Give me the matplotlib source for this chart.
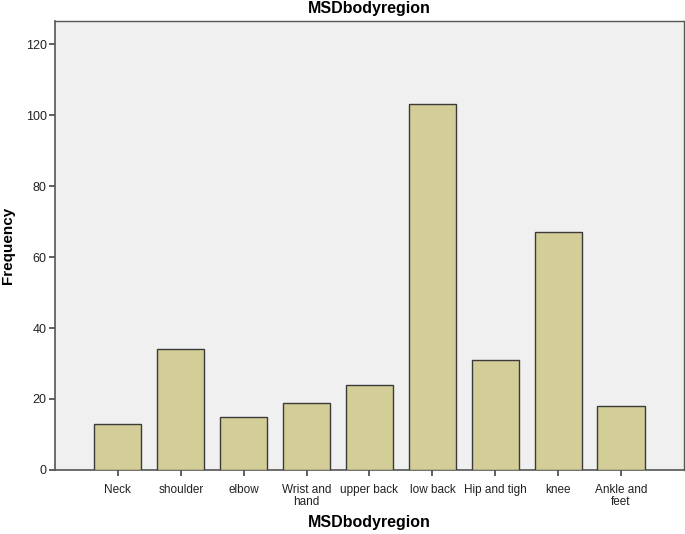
import matplotlib
matplotlib.use("Agg")
import matplotlib.pyplot as plt

categories = ["Neck", "shoulder", "elbow", "Wrist and\nhand", "upper back",
              "low back", "Hip and tigh", "knee", "Ankle and\nfeet"]
frequency = [13, 34, 15, 19, 24, 103, 31, 67, 18]
yticks = [0, 20, 40, 60, 80, 100, 120]

plt.rcParams['font.family'] = ['Liberation Sans', 'DejaVu Sans']

W, H = 685, 534
fig = plt.figure(figsize=(W / 100, H / 100), dpi=100)
ax = fig.add_axes([0.0803, 0.1199, 0.9182, 0.8408])
ax.set_facecolor('#F0F0F0')

x = list(range(len(categories)))
ax.bar(x, frequency, width=0.75, color='#D3CE97', edgecolor='#3A3A3A', linewidth=1.0, zorder=3)

ax.set_xlim(-1, 9)
ax.set_ylim(0, 126.5)
ax.set_xticks(x)
ax.set_xticklabels(categories, fontsize=8.5, linespacing=1.05)
ax.set_yticks(yticks)
ax.set_yticklabels([str(v) for v in yticks], fontsize=9)

for s in ax.spines.values():
    s.set_color('#555555')
    s.set_linewidth(1.0)
ax.spines['left'].set_linewidth(1.2)
ax.spines['bottom'].set_linewidth(1.2)
ax.tick_params(axis='both', direction='out', length=4, width=1.2, color='#444444', pad=2, labelcolor='#222222')
ax.tick_params(axis='x', pad=6)

fig.text(369 / W, 1 - 9 / H, "MSDbodyregion", fontsize=11.5, fontweight='bold',
         ha='center', va='center')
fig.text(8 / W, 1 - 245 / H, "Frequency", fontsize=11, fontweight='bold',
         rotation=90, ha='center', va='center')
fig.text(369 / W, 1 - 522 / H, "MSDbodyregion", fontsize=11.5, fontweight='bold',
         ha='center', va='center')

fig.savefig("out.png", dpi=100)
